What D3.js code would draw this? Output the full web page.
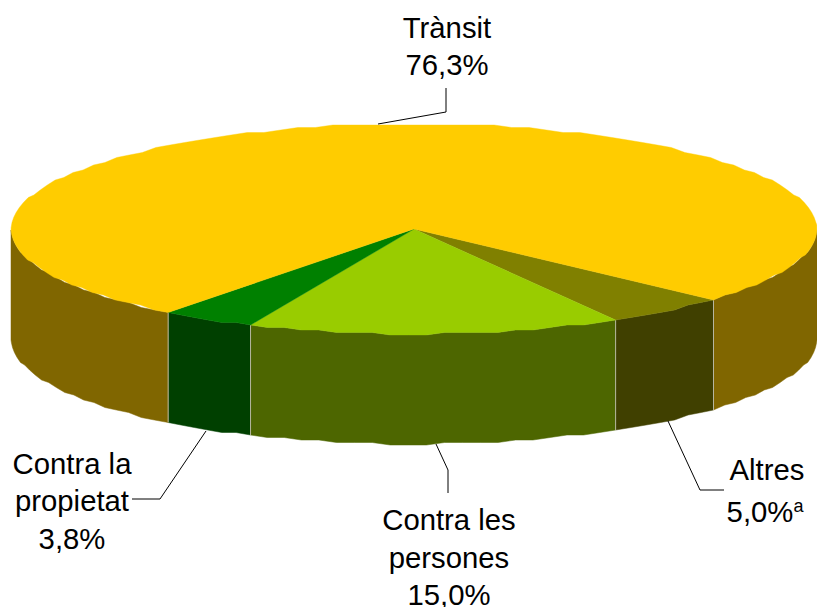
<!DOCTYPE html>
<html><head><meta charset="utf-8">
<script src="https://cdn.jsdelivr.net/npm/d3@7"></script>
<style>html,body{margin:0;padding:0;background:#fff}svg{display:block}text{font-family:"Liberation Sans",Arial,sans-serif;font-size:29.3px;fill:#000}</style>
</head><body><svg id="c" width="817" height="607"></svg>
<script>
const categories = ["Altres","Contra les persones","Contra la propietat","Trànsit"];
const values = [5.0,15.0,3.8,76.3];
const topColors = ["#808000","#99CC00","#008000","#FFCC00"];
const sideColors = ["#404000","#4D6600","#004000","#806600"];
const labelLines = [
  [{t:"Altres",x:767,y:480},{t:"5,0%",x:765,y:522,sup:"a"}],
  [{t:"Contra les",x:449,y:530},{t:"persones",x:449,y:568},{t:"15,0%",x:449,y:605}],
  [{t:"Contra la",x:72,y:474},{t:"propietat",x:72,y:511},{t:"3,8%",x:72,y:549}],
  [{t:"Trànsit",x:447,y:38},{t:"76,3%",x:447,y:75}]
];
const leaders = [
  [[668,421],[700,490],[724,490]],
  [[436,444],[448,470],[448,493]],
  [[206,431],[160,499],[132,499]],
  [[378,124],[446,112],[446,88]]
];
const cx=414, cy=229, rx=403, ry=105, depth=110;
const svg=d3.select("#c");
const x=d3.scaleLinear().domain([-1,1]).range([cx-rx,cx+rx]);
const y=d3.scaleLinear().domain([-1,1]).range([cy-ry,cy+ry]);
const start=132*Math.PI/180;
const arcs=d3.pie().sort(null).startAngle(start).endAngle(start+2*Math.PI)(values);
const px=a=>x(Math.sin(a)), py=a=>Math.round(y(-Math.cos(a))/2.5)*2.5;
const line=d3.line();
const T=2*Math.PI, STEP=0.045;
function samples(lo,hi){
  const n=Math.max(2,Math.ceil((hi-lo)/STEP));
  return d3.range(n+1).map(k=>lo+(hi-lo)*k/n);
}
function visible(a0,a1){
  const out=[];
  for(const k of [0,1]){
    const lo=Math.max(a0,Math.PI/2+k*T), hi=Math.min(a1,3*Math.PI/2+k*T);
    if(hi>lo) out.push([lo,hi]);
  }
  return out;
}
const walls=svg.append("g");
arcs.forEach((d,i)=>{
  visible(d.startAngle,d.endAngle).forEach(([lo,hi])=>{
    const as=samples(lo,hi);
    const upper=as.map(a=>[px(a),py(a)]);
    const lower=as.slice().reverse().map(a=>[px(a),py(a)+depth]);
    walls.append("path").attr("d",line(upper.concat(lower))+"Z").attr("fill",sideColors[i]).attr("stroke",sideColors[i]).attr("stroke-width",0.5);
  });
});
arcs.forEach(d=>{
  walls.append("line").attr("x1",px(d.startAngle)).attr("x2",px(d.startAngle))
   .attr("y1",py(d.startAngle)).attr("y2",py(d.startAngle)+depth)
   .attr("stroke","#b8b8a0").attr("stroke-width",1);
});
const tops=svg.append("g");
arcs.forEach((d,i)=>{
  const pts=[[x(0),y(0)]].concat(samples(d.startAngle,d.endAngle).map(a=>[px(a),py(a)]));
  tops.append("path").attr("d",line(pts)+"Z").attr("fill",topColors[i]).attr("stroke",topColors[i]).attr("stroke-width",0.4);
});
svg.append("g").selectAll("path").data(leaders).join("path").attr("d",d=>line(d)).attr("fill","none").attr("stroke","#000").attr("stroke-width",1);
labelLines.forEach(ls=>ls.forEach(l=>{
  const t=svg.append("text").attr("x",l.x).attr("y",l.y).attr("text-anchor","middle").text(l.t);
  if(l.sup){
    t.append("tspan").attr("dy",-10).style("font-size","18px").text(l.sup);
  }
}));
</script></body></html>
